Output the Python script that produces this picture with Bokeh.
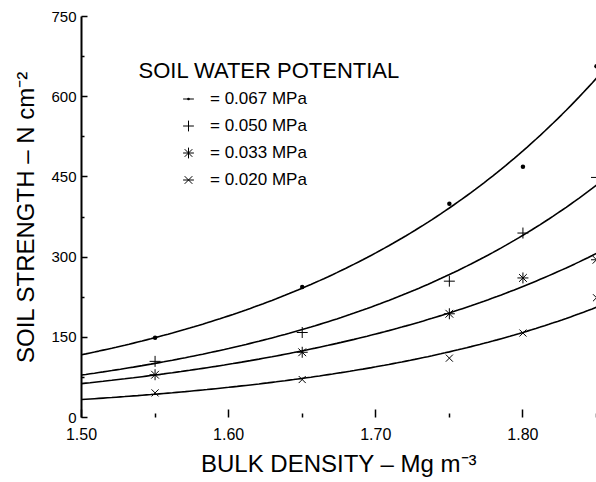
import numpy as np
from bokeh.plotting import figure
from bokeh.models import (FixedTicker, PrintfTickFormatter, Legend, LegendItem,
                          Label, ColumnDataSource)
from bokeh.embed import file_html
from bokeh.resources import INLINE

# ---- data ----
density = [1.55, 1.65, 1.75, 1.80, 1.85]
s067 = [149, 244, 400, 469, 657]
s050 = [105, 159, 255, 345, 449]
s033 = [80, 122, 194, 261, 295]
s020 = [46, 71, 111, 158, 224]
series_labels = ["= 0.067 MPa", "= 0.050 MPa", "= 0.033 MPa", "= 0.020 MPa"]
x_ticks = [1.50, 1.60, 1.70, 1.80]
x_minor = [1.55, 1.65, 1.75, 1.85]
y_ticks = [0, 150, 300, 450, 600, 750]
y_minor = [75, 225, 375, 525, 675]

FONT = "Liberation Sans"

p = figure(width=596, height=480, x_range=(1.50, 1.85), y_range=(0, 750),
           output_backend="svg", toolbar_location=None,
           min_border_left=81, min_border_right=0, min_border_top=16,
           min_border_bottom=63)
p.outline_line_color = None
p.xgrid.grid_line_color = None
p.ygrid.grid_line_color = None
p.background_fill_color = "white"
p.border_fill_color = "white"

# x axis
xa = p.xaxis[0]
xa.ticker = FixedTicker(ticks=x_ticks, minor_ticks=x_minor)
xa.formatter = PrintfTickFormatter(format="%.2f")
xa.axis_line_color = None
xa.major_tick_in = 8
xa.major_tick_out = 0
xa.minor_tick_in = 4
xa.minor_tick_out = 0
xa.major_tick_line_width = 1.5
xa.minor_tick_line_width = 1.5
xa.major_tick_line_color = "black"
xa.minor_tick_line_color = "black"
xa.major_label_standoff = 10
xa.major_label_text_font = FONT
xa.major_label_text_font_size = "16px"
xa.major_label_text_color = "black"
xa.axis_label = "BULK DENSITY – Mg m⁻³"
xa.axis_label_text_font = FONT
xa.axis_label_text_font_size = "24px"
xa.axis_label_text_font_style = "normal"
xa.axis_label_text_color = "black"
xa.axis_label_standoff = 7

# y axis
ya = p.yaxis[0]
ya.ticker = FixedTicker(ticks=y_ticks, minor_ticks=y_minor)
ya.axis_line_width = 2
ya.axis_line_color = "black"
ya.major_tick_in = 6
ya.major_tick_out = 0
ya.minor_tick_in = 3
ya.minor_tick_out = 0
ya.major_tick_line_width = 1.5
ya.minor_tick_line_width = 1.5
ya.major_tick_line_color = "black"
ya.minor_tick_line_color = "black"
ya.major_label_standoff = 5
ya.major_label_text_font = FONT
ya.major_label_text_font_size = "15px"
ya.major_label_text_color = "black"
ya.axis_label = "SOIL STRENGTH – N cm⁻²"
ya.axis_label_text_font = FONT
ya.axis_label_text_font_size = "24px"
ya.axis_label_text_font_style = "normal"
ya.axis_label_text_color = "black"
ya.axis_label_standoff = 9

# fitted exponential curves (log-linear regression of each series)
xs = np.linspace(1.50, 1.85, 120)
all_series = [s067, s050, s033, s020]
for s in all_series:
    b, a = np.polyfit(density, np.log(s), 1)
    p.line(xs, np.exp(a + b * xs), line_color="black", line_width=1.6)

# data points
r1 = p.scatter(density, s067, marker="dot", size=18, line_color="black",
               fill_color="black", line_width=1.5)
r2 = p.scatter(density, s050, marker="cross", size=11, line_color="black",
               line_width=1)
r3 = p.scatter(density, s033, marker="asterisk", size=11, line_color="black",
               line_width=1)
r4 = p.scatter(density, s020, marker="x", size=10, line_color="black",
               line_width=1)

# dash glyph used only for the legend symbols (no visible data point)
nodata = ColumnDataSource(data=dict(x=[float("nan")], y=[float("nan")]))
rd1 = p.scatter("x", "y", source=nodata, marker="dash", line_color="black",
                line_width=1)
rd4 = p.scatter("x", "y", source=nodata, marker="dash", line_color="black",
                line_width=1)

legend = Legend(items=[
    LegendItem(label=series_labels[0], renderers=[rd1, r1]),
    LegendItem(label=series_labels[1], renderers=[r2]),
    LegendItem(label=series_labels[2], renderers=[r3]),
    LegendItem(label=series_labels[3], renderers=[rd4, r4]),
], location=(93, 224))
legend.glyph_width = 28
legend.glyph_height = 27
legend.label_height = 27
legend.spacing = 0
legend.padding = 0
legend.margin = 0
legend.label_standoff = 8
legend.border_line_color = None
legend.background_fill_alpha = 0
legend.label_text_font = FONT
legend.label_text_font_size = "17px"
legend.label_text_color = "black"
p.add_layout(legend)

# legend title
p.add_layout(Label(x=139 - 82, y=418 - 71, x_units="screen", y_units="screen",
                   text="SOIL WATER POTENTIAL", text_font=FONT,
                   text_font_size="22px", text_color="black",
                   text_baseline="alphabetic", text_align="left"))

open("out.html", "w").write(file_html(p, INLINE))
